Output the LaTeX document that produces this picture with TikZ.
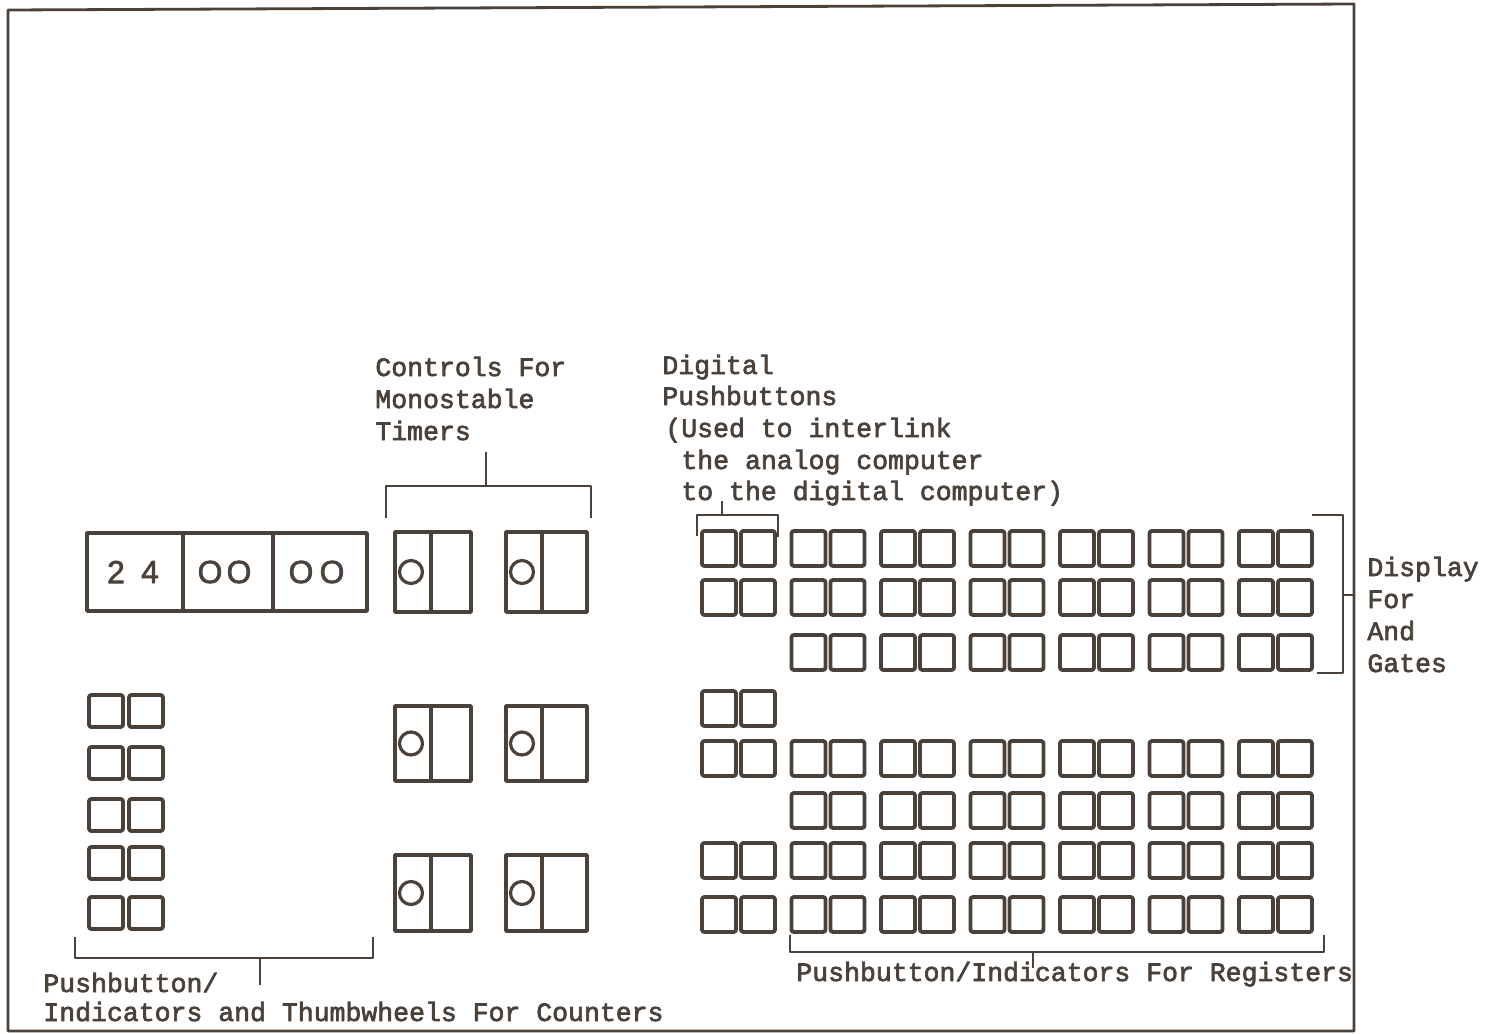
\documentclass[tikz,border=0pt]{standalone}
\usepackage{fontspec}
\newfontfamily\tw[FakeBold=2.5]{Liberation Mono}
\newfontfamily\dig[FakeBold=2]{Liberation Sans}
\definecolor{ink}{RGB}{74,66,58}
\begin{document}
\begin{tikzpicture}[x=0.5pt,y=-0.5pt,line join=round,
  pb/.style={draw=ink, line width=1.9pt, rounded corners=1.2pt},
  tbox/.style={draw=ink, line width=1.8pt},
  frm/.style={draw=ink, line width=1.4pt},
  brk/.style={draw=ink, line width=1.3pt},
  lbl/.style={anchor=base west, inner sep=0pt, text=ink, font=\tw\fontsize{13.25pt}{16pt}\selectfont},
  digit/.style={inner sep=0pt, text=ink, font=\dig\fontsize{16pt}{16pt}\selectfont},
  knob/.style={draw=ink, line width=1.6pt}]
\useasboundingbox (0,0) rectangle (1485,1034);
% frame
\draw[frm] (8,1031)--(8,10)--(1354,4)--(1354,1031)--cycle;

% thumbwheel display
\draw[tbox] (87,533) rectangle (367,611);
\draw[tbox] (183,533)--(183,611);
\draw[tbox] (273,533)--(273,611);
\node[digit] (d2) at (116,572) {2};
\node[digit] (d4) at (150,572) {4};
\node[digit] (o1) at (210,572) {O};
\node[digit] (o2) at (239,572) {O};
\node[digit] (o3) at (301,572) {O};
\node[digit] (o4) at (332,572) {O};

% monostable timer controls
\foreach \ya/\yb in {532/612, 706/781, 855/931} {
  \pgfmathsetmacro{\yc}{(\ya+\yb)/2}
  \draw[tbox] (395,\ya) rectangle (471,\yb);
  \draw[tbox] (431,\ya)--(431,\yb);
  \draw[knob] (411,\yc) circle (11.5);
  \draw[tbox] (506,\ya) rectangle (587,\yb);
  \draw[tbox] (542,\ya)--(542,\yb);
  \draw[knob] (522,\yc) circle (11.5);
}

% left pushbutton column
\foreach \y in {695,747,799,847,897} {
  \draw[pb] (89,\y) rectangle ++(34,32);
  \draw[pb] (129,\y) rectangle ++(34,32);
}

% right grid
\foreach \y/\gs in {531/0, 580/0, 635/1, 741/0, 793/1, 843/0, 897/0} {
  \foreach \g in {\gs,...,6} {
    \pgfmathsetmacro{\xa}{702+89.5*\g}
    \draw[pb] (\xa,\y) rectangle ++(34,35);
    \draw[pb] (\xa+39,\y) rectangle ++(34,35);
  }
}
\draw[pb] (702,691) rectangle ++(34,35);
\draw[pb] (741,691) rectangle ++(34,35);

% brackets
\draw[brk] (386,518)--(386,486)--(591,486)--(591,518);
\draw[brk] (486,486)--(486,452);
\draw[brk] (697,536)--(697,515)--(778,515)--(778,537);
\draw[brk] (722,515)--(722,501);
\draw[brk] (1312,515)--(1343,515)--(1343,673)--(1317,673);
\draw[brk] (1343,595)--(1354,595);
\draw[brk] (75,937)--(75,958)--(373,958)--(373,937);
\draw[brk] (260,958)--(260,985);
\draw[brk] (790,935)--(790,952)--(1324,952)--(1324,935);
\draw[brk] (1033,952)--(1033,968);

% labels
\node[lbl] (c1) at (375,376) {Controls For};
\node[lbl] (c2) at (375,408) {Monostable};
\node[lbl] (c3) at (375,440) {Timers};
\node[lbl] (g1) at (662,374) {Digital};
\node[lbl] (g2) at (662,405) {Pushbuttons};
\node[lbl] (g3) at (665,437) {(Used to interlink};
\node[lbl] (g4) at (681,469) {the analog computer};
\node[lbl] (g5) at (681,500) {to the digital computer)};
\node[lbl] (a1) at (1367,576) {Display};
\node[lbl] (a2) at (1367,608) {For};
\node[lbl] (a3) at (1367,640) {And};
\node[lbl] (a4) at (1367,672) {Gates};
\node[lbl] (p1) at (43,992) {Pushbutton/};
\node[lbl] (p2) at (43,1021) {Indicators and Thumbwheels For Counters};
\node[lbl] (r1) at (796,981) {Pushbutton/Indicators For Registers};
\end{tikzpicture}
\end{document}
